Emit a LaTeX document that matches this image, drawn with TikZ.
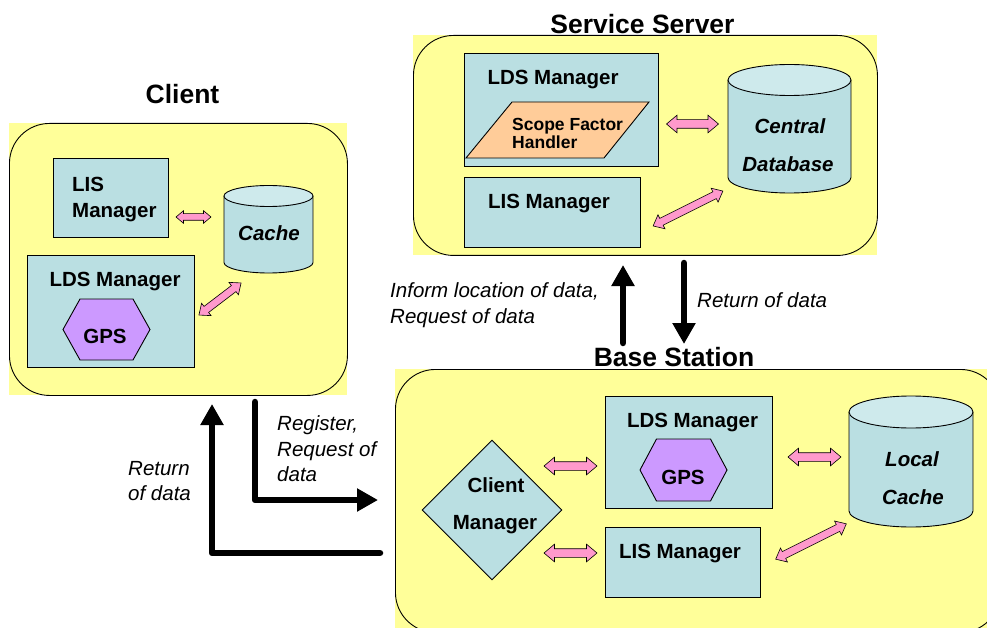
\documentclass[tikz,border=0pt]{standalone}
\usepackage{fontspec}
\setmainfont{Liberation Sans}
\usetikzlibrary{arrows.meta,shapes.arrows,shapes.geometric}

\definecolor{panelY}{RGB}{255,255,153}
\definecolor{boxC}{RGB}{186,223,226}
\definecolor{cylTop}{RGB}{206,234,236}
\definecolor{gpsC}{RGB}{204,153,255}
\definecolor{sfhC}{RGB}{255,204,153}
\definecolor{pinkC}{RGB}{255,153,204}

% database drum: name, left x, right x, top-centre y, bottom-centre y, rim radius
\newcommand\drum[6]{%
  \pgfmathsetmacro\drx{(#3-#2)/2}%
  \pgfmathsetmacro\dcx{(#3+#2)/2}%
  \pgfmathsetmacro\dcy{(#4+#5)/2}%
  \fill[boxC] (#2,#4) rectangle (#3,#5);
  \fill[boxC] (\dcx,#5) ellipse [x radius=\drx, y radius=#6];
  \draw[outl] (#2,#4) -- (#2,#5) arc [start angle=180, end angle=0, x radius=\drx, y radius=#6] -- (#3,#4);
  \draw[outl, fill=cylTop] (\dcx,#4) ellipse [x radius=\drx, y radius=#6];
  \coordinate (#1) at (\dcx,\dcy);
}

% hexagon with flat top and bottom: centre x, centre y, half width, half height, inset
\newcommand\hexa[5]{%
  \draw[outl, fill=gpsC] (#1-#3,#2) -- (#1-#3+#5,#2-#4) -- (#1+#3-#5,#2-#4)
    -- (#1+#3,#2) -- (#1+#3-#5,#2+#4) -- (#1-#3+#5,#2+#4) -- cycle;
}

\tikzset{
  outl/.style={draw=black, line width=0.9pt},
  panel/.style={draw=black, line width=0.9pt, rounded corners=40pt, inner sep=0pt, anchor=north west},
  box/.style={outl, fill=boxC, inner sep=0pt, anchor=north west},
  body/.style={inner sep=0pt, font=\fontsize{20.5}{26}\selectfont\bfseries},
  dbtext/.style={inner sep=0pt, font=\fontsize{20.5}{26}\selectfont\bfseries\itshape},
  title/.style={inner sep=0pt, font=\fontsize{26.5}{30}\selectfont\bfseries},
  note/.style={inner sep=0pt, align=left, anchor=west, font=\fontsize{20.5}{25.5}\selectfont\itshape},
  dbl/.style 2 args={double arrow, draw=black, line width=0.6pt, fill=pinkC,
    inner sep=0pt, inner ysep=#1, double arrow head extend=#2, double arrow tip angle=80},
  flow/.style={line width=6.5pt, line join=round, line cap=round,
    -{Triangle[width=22pt,length=21pt]}},
}

\begin{document}
\begin{tikzpicture}[x=1pt,y=-1pt]
\useasboundingbox (0,0) rectangle (987,628);

% ---------------- Client ----------------
\fill[panelY] (9,123) rectangle (347,395);
\node[panel, minimum width=338pt, minimum height=272pt] (client) at (9,123) {};
\node[title] (t-client) at (182.5,94) {Client};

\node[box, minimum width=115pt, minimum height=79pt] (cl-lis) at (53,158) {};
\node[body, anchor=west, align=left] (cl-lis-t) at (72,200) {LIS\\Manager};

\node[box, minimum width=167pt, minimum height=112pt] (cl-lds) at (27,255) {};
\node[body] (cl-lds-t) at (115,282) {LDS Manager};
\hexa{106.5}{329.5}{43.5}{30.5}{17}
\node[body] (cl-gps) at (105,336) {GPS};

\drum{cl-cache}{224}{313}{196}{262.5}{10.5}
\node[dbtext] (cl-cache-t) at (269,233) {Cache};

\node[dbl={3pt}{3pt}, minimum height=35pt] (cl-a1) at (193.5,217) {};
\node[dbl={3.5pt}{4pt}, minimum height=53pt, rotate=37.3] (cl-a2) at (220,299) {};

% ---------------- Service Server ----------------
\fill[panelY] (413,35) rectangle (877,255);
\node[panel, minimum width=464pt, minimum height=220pt] (server) at (413,35) {};
\node[title] (t-server) at (642.5,24) {Service Server};

\node[box, minimum width=194pt, minimum height=113pt] (ss-lds) at (464,53) {};
\node[body] (ss-lds-t) at (553,80) {LDS Manager};
\draw[outl, fill=sfhC] (466,158) -- (512,102) -- (649,102) -- (604,158) -- cycle;
\node[inner sep=0pt, anchor=west, align=left, font=\fontsize{17.5}{18}\selectfont\bfseries]
  (ss-sfh) at (512,133) {Scope Factor\\Handler};

\node[box, minimum width=176pt, minimum height=70pt] (ss-lis) at (464,177) {};
\node[body] (ss-lis-t) at (549,204) {LIS Manager};

\drum{ss-db}{728}{851}{80}{177.5}{15.5}
\node[dbtext] (ss-db-t1) at (790,126) {Central};
\node[dbtext] (ss-db-t2) at (788,164) {Database};

\node[dbl={4pt}{4.5pt}, minimum height=52pt] (ss-a1) at (692.5,124) {};
\node[dbl={3.5pt}{4pt}, minimum height=78pt, rotate=26.6] (ss-a2) at (688,208.5) {};

% ---------------- Base Station ----------------
\fill[panelY] (395,369) rectangle (1000,632);
\node[panel, minimum width=605pt, minimum height=263pt] (base) at (395,369) {};
\node[title] (t-base) at (674,357) {Base Station};

\node[diamond, outl, fill=boxC, inner sep=0pt, minimum width=140pt, minimum height=140pt] (bs-cm) at (492,510) {};
\node[body] (bs-cm-t1) at (496,485) {Client};
\node[body] (bs-cm-t2) at (495,525) {Manager};

\node[box, minimum width=167pt, minimum height=112pt] (bs-lds) at (605,396) {};
\node[body] (bs-lds-t) at (692.5,423) {LDS Manager};
\hexa{683.5}{470}{43.5}{31}{16.5}
\node[body] (bs-gps) at (683,477) {GPS};

\node[box, minimum width=155pt, minimum height=70pt] (bs-lis) at (605,527) {};
\node[body] (bs-lis-t) at (680,554) {LIS Manager};

\drum{bs-cache}{849}{973}{412}{511}{16}
\node[dbtext] (bs-cache-t1) at (912,459) {Local};
\node[dbtext] (bs-cache-t2) at (913,497) {Cache};

\node[dbl={4pt}{4.5pt}, minimum height=53pt] (bs-a1) at (570.5,466) {};
\node[dbl={4pt}{4.5pt}, minimum height=53pt] (bs-a2) at (570.5,553) {};
\node[dbl={4pt}{4.5pt}, minimum height=53pt] (bs-a3) at (814.5,457) {};
\node[dbl={3.5pt}{4pt}, minimum height=79pt, rotate=26.6] (bs-a4) at (811,541.5) {};

% ---------------- message flows ----------------
\coordinate (up0) at (623,343);
\coordinate (up1) at (623,265);
\coordinate (dn0) at (684,263);
\coordinate (dn1) at (684,344);
\draw[flow] (up0) -- (up1);
\draw[flow] (dn0) -- (dn1);

\coordinate (rg0) at (255,402);
\coordinate (rg1) at (378,500);
\coordinate (rt0) at (380,553);
\coordinate (rt1) at (212,404);
\draw[flow] (rg0) |- (rg1);
\draw[flow] (rt0) -| (rt1);

\node[note] (n-inform) at (390,305) {Inform location of data,\\Request of data};
\node[note] (n-ret1) at (697,300) {Return of data};
\node[note] (n-reg) at (277,449) {Register,\\Request of\\data};
\node[note] (n-ret2) at (128,481) {Return\\of data};
\end{tikzpicture}
\end{document}
